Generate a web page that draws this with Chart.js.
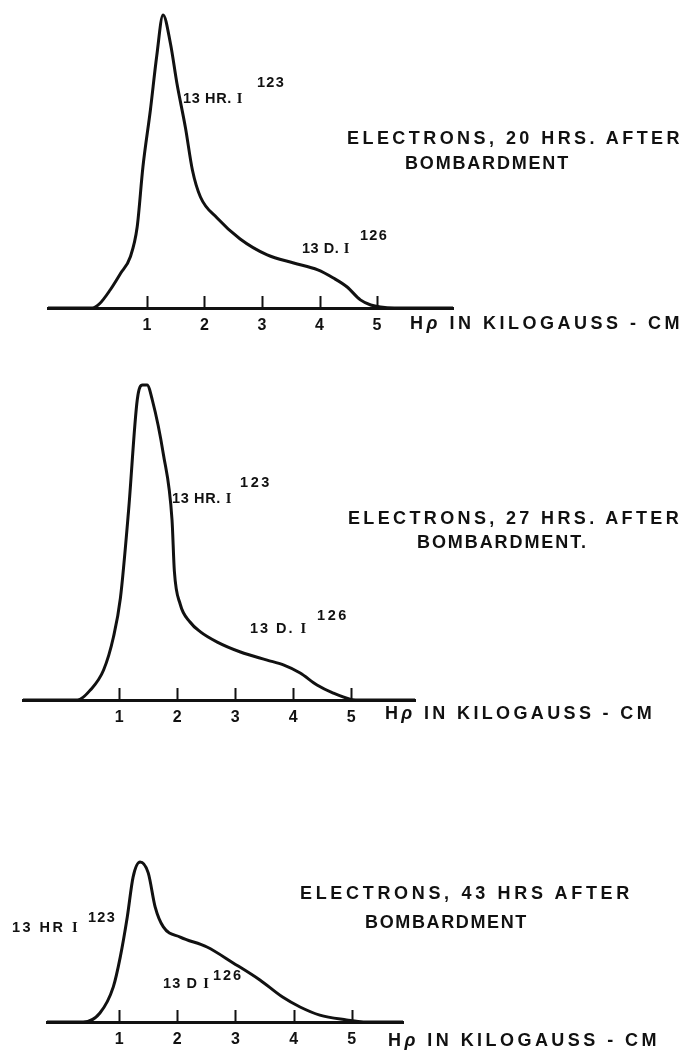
<!DOCTYPE html>
<html>
<head>
<meta charset="utf-8">
<script src="https://cdn.jsdelivr.net/npm/chart.js@4.4.1/dist/chart.umd.min.js"></script>
<style>
html, body { margin: 0; padding: 0; background: #fff; }
body { width: 688px; height: 1054px; position: relative; overflow: hidden;
       font-family: "Liberation Sans", Arial, sans-serif; font-weight: bold; color: #111; }
canvas { position: absolute; left: 0; }
.lbl { position: absolute; white-space: nowrap; line-height: 1; transform: translateY(-50%); }
.title { font-size: 18px; }
.axis { font-size: 18px; }
.note { font-size: 14.5px; }
.roman { font-family: "Liberation Serif", serif; }
</style>
</head>
<body>
<canvas id="c20" width="688" height="338" style="top:0px"></canvas>
<canvas id="c27" width="688" height="360" style="top:370px"></canvas>
<canvas id="c43" width="688" height="216" style="top:836px"></canvas>

<!-- panel 1 -->
<div class="lbl title" data-w="336" style="left:347px;top:138px">ELECTRONS, 20 HRS. AFTER</div>
<div class="lbl title" data-w="165" style="left:405px;top:163px">BOMBARDMENT</div>
<div class="lbl axis" data-w="273" style="left:410px;top:323px">H<i>ρ</i> IN KILOGAUSS - CM</div>
<div class="lbl note" data-w="60" style="left:183px;top:98px">13 HR. <span class="roman">I</span></div>
<div class="lbl note" data-w="28" style="left:257px;top:82px">123</div>
<div class="lbl note" data-w="48" style="left:302px;top:248px">13 D. <span class="roman">I</span></div>
<div class="lbl note" data-w="28" style="left:360px;top:235px">126</div>

<!-- panel 2 -->
<div class="lbl title" data-w="334" style="left:348px;top:518px">ELECTRONS, 27 HRS. AFTER</div>
<div class="lbl title" data-w="171" style="left:417px;top:542px">BOMBARDMENT.</div>
<div class="lbl axis" data-w="270" style="left:385px;top:713px">H<i>ρ</i> IN KILOGAUSS - CM</div>
<div class="lbl note" data-w="60" style="left:172px;top:498px">13 HR. <span class="roman">I</span></div>
<div class="lbl note" data-w="32" style="left:240px;top:482px">123</div>
<div class="lbl note" data-w="58" style="left:250px;top:628px">13 D. <span class="roman">I</span></div>
<div class="lbl note" data-w="32" style="left:317px;top:615px">126</div>

<!-- panel 3 -->
<div class="lbl title" data-w="333" style="left:300px;top:893px">ELECTRONS, 43 HRS AFTER</div>
<div class="lbl title" data-w="163" style="left:365px;top:922px">BOMBARDMENT</div>
<div class="lbl axis" data-w="272" style="left:388px;top:1040px">H<i>ρ</i> IN KILOGAUSS - CM</div>
<div class="lbl note" data-w="68" style="left:12px;top:927px">13 HR <span class="roman">I</span></div>
<div class="lbl note" data-w="28" style="left:88px;top:917px">123</div>
<div class="lbl note" data-w="47" style="left:163px;top:983px">13 D <span class="roman">I</span></div>
<div class="lbl note" data-w="30" style="left:213px;top:975px">126</div>

<script>
// H-rho (kilogauss-cm) and relative electron counts
const HRP_20 = [-0.72, 0.05, 0.18, 0.36, 0.54, 0.71, 0.83, 0.93, 1.06, 1.17, 1.28, 1.41, 1.52, 1.67, 1.79, 1.93, 2.22, 2.62, 3.09, 3.55, 3.97, 4.24, 4.48, 4.71, 4.89, 5.06, 5.3, 6.32];
const COUNTS_20 = [0, 0, 1.5, 6, 11.5, 17, 27, 47, 66, 84, 97.7, 88, 75, 60, 46, 37, 30, 23, 17.7, 15, 12.7, 10, 7, 2.7, 1, 0.3, 0, 0];

const HRP_27 = [-0.66, 0.28, 0.5, 0.73, 0.9, 1.02, 1.16, 1.31, 1.4, 1.48, 1.57, 1.76, 1.91, 1.95, 2.05, 2.22, 2.4, 2.69, 3.09, 3.55, 3.83, 4.12, 4.41, 4.69, 4.98, 5.2, 6.1];
const COUNTS_27 = [0, 0, 3.3, 10, 21, 34, 63, 100, 105, 105, 100, 82, 60, 43, 32, 26, 22.7, 19.3, 16, 13.3, 11.7, 9, 5, 2.3, 0.3, 0, 0];

const HRP_43 = [-0.24, 0.38, 0.67, 0.9, 1.02, 1.14, 1.24, 1.36, 1.5, 1.62, 1.76, 2.05, 2.51, 2.96, 3.42, 3.81, 4.11, 4.45, 4.91, 5.2, 5.88];
const COUNTS_43 = [0, 0, 3, 11.7, 21.7, 35, 48.3, 53.3, 49.7, 38.3, 31.7, 28.3, 25, 19.7, 14, 8.3, 5, 2.3, 0.7, 0, 0];

const TICKS = [1, 2, 3, 4, 5];

const INK = '#111';

// short upward tick marks on the baseline
const tickMarks = {
    id: 'tickMarks',
    afterDraw(chart) {
        const s = chart.scales.x;
        const ctx = chart.ctx;
        const base = chart.chartArea.bottom;
        ctx.save();
        ctx.strokeStyle = INK;
        ctx.lineWidth = 2;
        TICKS.forEach(v => {
            const px = Math.round(s.getPixelForValue(v)) + 0.5;
            ctx.beginPath();
            ctx.moveTo(px, base);
            ctx.lineTo(px, base - 12);
            ctx.stroke();
        });
        ctx.restore();
    }
};

function makeChart(id, xs, ys, xMin, xMax, yMax, pad) {
    return new Chart(document.getElementById(id), {
        type: 'line',
        data: {
            datasets: [{
                data: xs.map((x, i) => ({ x: x, y: ys[i] })),
                borderColor: INK,
                borderWidth: 3,
                pointRadius: 0,
                cubicInterpolationMode: 'monotone',
                fill: false
            }]
        },
        options: {
            responsive: false,
            animation: false,
            events: [],
            layout: { padding: pad },
            plugins: { legend: { display: false }, tooltip: { enabled: false } },
            scales: {
                x: {
                    type: 'linear',
                    min: xMin,
                    max: xMax,
                    afterBuildTicks: s => { s.ticks = TICKS.map(v => ({ value: v })); },
                    afterFit: s => { s.height = 30; },
                    grid: { display: false, drawTicks: false },
                    border: { display: true, color: INK, width: 3 },
                    ticks: {
                        padding: 8,
                        color: INK,
                        autoSkip: false,
                        maxRotation: 0,
                        font: { family: 'Liberation Sans', weight: 'bold', size: 16 }
                    }
                },
                y: { display: false, min: 0, max: yMax }
            }
        },
        plugins: [tickMarks]
    });
}

makeChart('c20', HRP_20, COUNTS_20, -0.72, 6.32, 100, { top: 8, left: 48, right: 235, bottom: 0 });
makeChart('c27', HRP_27, COUNTS_27, -0.66, 6.1, 108, { top: 6, left: 23, right: 273, bottom: 0 });
makeChart('c43', HRP_43, COUNTS_43, -0.24, 5.88, 60, { top: 6, left: 47, right: 285, bottom: 0 });

// stretch the hand lettering to the widths it has in the drawing
document.querySelectorAll('[data-w]').forEach(el => {
    const target = +el.dataset.w;
    const n = el.textContent.length;
    const w = el.getBoundingClientRect().width;
    el.style.letterSpacing = ((target - w) / n) + 'px';
});
</script>
</body>
</html>
